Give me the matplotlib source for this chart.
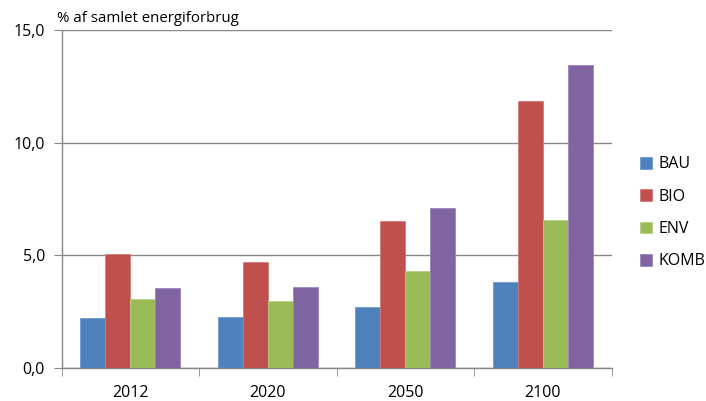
import matplotlib
matplotlib.use("Agg")
import matplotlib.pyplot as plt
import numpy as np
from matplotlib.ticker import FuncFormatter

categories = ["2012", "2020", "2050", "2100"]
series_names = ["BAU", "BIO", "ENV", "KOMB"]
bau = [2.22, 2.25, 2.72, 3.82]
bio = [5.07, 4.73, 6.55, 11.87]
env = [3.05, 2.96, 4.31, 6.59]
komb = [3.57, 3.58, 7.09, 13.44]
colors = ["#4F81BD", "#C0504D", "#9BBB59", "#8064A2"]
edge_colors = ["#6f9bd0", "#d47a77", "#b5d07f", "#9d86bd"]

plt.rcParams['font.family'] = ['Open Sans', 'DejaVu Sans']

fig = plt.figure(figsize=(7.06, 4.01), dpi=100)
ax = fig.add_axes([61.7/706, 1-368/401, (611.7-61.7)/706, (368-30.3)/401])

x = np.arange(len(categories))
bw = 1/5.5
data = [bau, bio, env, komb]
for i, (name, vals) in enumerate(zip(series_names, data)):
    ax.bar(x + (i - 1.5)*bw, vals, width=bw, color=colors[i], edgecolor=edge_colors[i],
           linewidth=0.6, label=name, zorder=3)

ax.set_xlim(-0.5, len(categories) - 0.5)
ax.set_ylim(0, 15)
ax.set_yticks([0, 5, 10, 15])
ax.yaxis.set_major_formatter(FuncFormatter(lambda v, p: f"{v:.1f}".replace(".", ",")))
ax.set_xticks(x)
ax.set_xticklabels(categories)
ax.set_xticks(np.arange(-0.5, len(categories)), minor=True)
ax.tick_params(axis='x', which='major', length=0, pad=12, labelsize=11.5)
ax.tick_params(axis='x', which='minor', length=6, color="#878787", direction='out')
ax.tick_params(axis='y', length=6, color="#878787", direction='out', pad=6, labelsize=11.5)
ax.grid(axis='y', color="#878787", linewidth=1, zorder=0)
for s in ['top', 'right']:
    ax.spines[s].set_visible(False)
for s in ['left', 'bottom']:
    ax.spines[s].set_color("#878787")
    ax.spines[s].set_linewidth(1)

fig.text(57/706, 1-22/401, "% af samlet energiforbrug", fontsize=10.8, ha='left', va='baseline')

leg = fig.legend(loc='upper left', bbox_to_anchor=(634/706, 1-150/401), frameon=False,
                 fontsize=11.5, handlelength=0.75, handleheight=0.75, handletextpad=0.4,
                 labelspacing=1.02, borderaxespad=0)

fig.savefig("out.png", dpi=100)
